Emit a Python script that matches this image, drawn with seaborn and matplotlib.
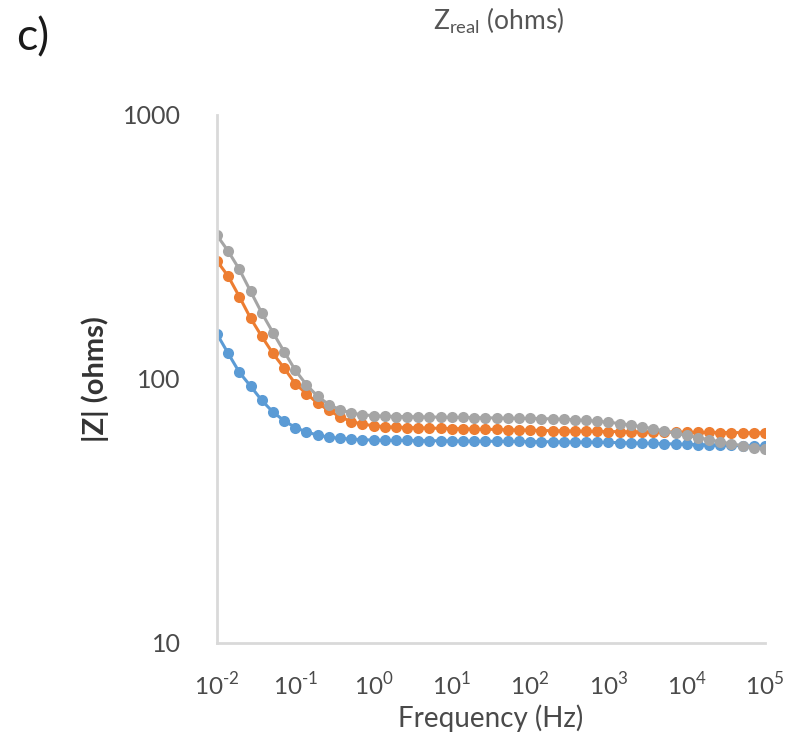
import numpy as np
import pandas as pd
import seaborn as sns
import matplotlib.pyplot as plt
from matplotlib.ticker import FixedLocator, NullLocator

# ---- data -------------------------------------------------------------
freq = np.logspace(-2, 5, 50)  # measurement sweep, 7 points per decade

z_blue = [148, 125, 106, 94, 83, 75, 69.5, 65.5, 63, 61.3,
          60.2, 59.6, 59.2, 58.9, 58.7, 58.6, 58.5, 58.5, 58.4, 58.4,
          58.3, 58.3, 58.2, 58.2, 58.1, 58.1, 58.0, 58.0, 57.9, 57.9,
          57.8, 57.8, 57.7, 57.7, 57.6, 57.5, 57.4, 57.3, 57.2, 57.0,
          56.9, 56.7, 56.6, 56.4, 56.3, 56.1, 56.0, 55.8, 55.7, 55.6]

z_orange = [280, 245, 205, 170, 145, 125, 110, 96, 88, 81,
            76, 72, 69, 67.5, 66.5, 66, 65.7, 65.5, 65.3, 65.2,
            65.0, 64.9, 64.8, 64.6, 64.5, 64.4, 64.2, 64.1, 64.0, 63.8,
            63.7, 63.6, 63.5, 63.4, 63.3, 63.2, 63.2, 63.1, 63.1, 63.0,
            63.0, 62.9, 62.9, 62.8, 62.8, 62.7, 62.7, 62.6, 62.6, 62.5]

z_gray = [350, 305, 260, 215, 178, 150, 127, 108, 95, 86,
          80, 76.5, 74.3, 73.2, 72.6, 72.3, 72.1, 72.0, 71.9, 71.8,
          71.7, 71.6, 71.5, 71.4, 71.3, 71.2, 71.1, 71.0, 70.9, 70.8,
          70.6, 70.4, 70.1, 69.7, 69.2, 68.6, 67.8, 66.9, 65.9, 64.8,
          63.6, 62.4, 61.2, 60.0, 58.9, 57.8, 56.8, 55.9, 55.0, 54.3]

series_names = ["Series1", "Series2", "Series3"]
x_ticks = [1e-2, 1e-1, 1e0, 1e1, 1e2, 1e3, 1e4, 1e5]
x_tick_labels = [r"10$^{\mathregular{‐2}}$", r"10$^{\mathregular{‐1}}$",
                 r"10$^{\mathregular{0}}$", r"10$^{\mathregular{1}}$",
                 r"10$^{\mathregular{2}}$", r"10$^{\mathregular{3}}$",
                 r"10$^{\mathregular{4}}$", r"10$^{\mathregular{5}}$"]
y_ticks = [10, 100, 1000]
y_tick_labels = ["10", "100", "1000"]

df = pd.DataFrame({
    "freq": np.concatenate([freq, freq, freq]),
    "Z": np.concatenate([z_blue, z_orange, z_gray]),
    "series": np.repeat(series_names, len(freq)),
})

# ---- style ------------------------------------------------------------
sns.set_style("white")
plt.rcParams["font.family"] = ["Lato", "DejaVu Sans"]
plt.rcParams["mathtext.fontset"] = "custom"
plt.rcParams["mathtext.rm"] = "Lato"

palette = {"Series1": "#5B9BD5", "Series2": "#ED7D31", "Series3": "#A5A5A5"}
text_color = "#4a4a4a"

fig = plt.figure(figsize=(7.92, 7.42), dpi=100)
# axes: x 217..765 px, y 115..643 px
ax = fig.add_axes([217 / 792, 1 - 643 / 742, (765 - 217) / 792, (643 - 115) / 742])

sns.lineplot(data=df, x="freq", y="Z", hue="series", palette=palette,
             marker="o", markersize=8, markeredgewidth=0, linewidth=2.2,
             ax=ax, legend=False, sort=False)

ax.set_xscale("log")
ax.set_yscale("log")
ax.set_xlim(1e-2, 1e5)
ax.set_ylim(10, 1000)

ax.xaxis.set_major_locator(FixedLocator(x_ticks))
ax.xaxis.set_minor_locator(NullLocator())
ax.set_xticklabels(x_tick_labels)
ax.yaxis.set_major_locator(FixedLocator(y_ticks))
ax.yaxis.set_minor_locator(NullLocator())
ax.set_yticklabels(y_tick_labels)

for side in ["top", "right"]:
    ax.spines[side].set_visible(False)
for side in ["left", "bottom"]:
    ax.spines[side].set_color("#D9D9D9")
    ax.spines[side].set_linewidth(2)

ax.tick_params(axis="x", direction="inout", length=10, width=1.5,
               color="#D9D9D9", labelsize=17.5, labelcolor=text_color, pad=15)
ax.tick_params(axis="y", direction="out", length=8, width=1.5,
               color="#D9D9D9", labelsize=18, labelcolor=text_color, pad=18)

ax.set_xlabel("Frequency (Hz)", fontsize=20, color=text_color, labelpad=4)
ax.set_ylabel("|Z| (ohms)", fontsize=21, color="#333333",
              fontweight="bold", labelpad=10)

fig.text(33 / 792, 1 - 38 / 742, "c)", fontsize=32, color="#1a1a1a",
         ha="center", va="center")
fig.text(499 / 792, 1 - 21 / 742, r"Z$_{\mathregular{real}}$ (ohms)", fontsize=19,
         color="#555555", ha="center", va="center")

fig.savefig("out.png", dpi=100, facecolor="white")
